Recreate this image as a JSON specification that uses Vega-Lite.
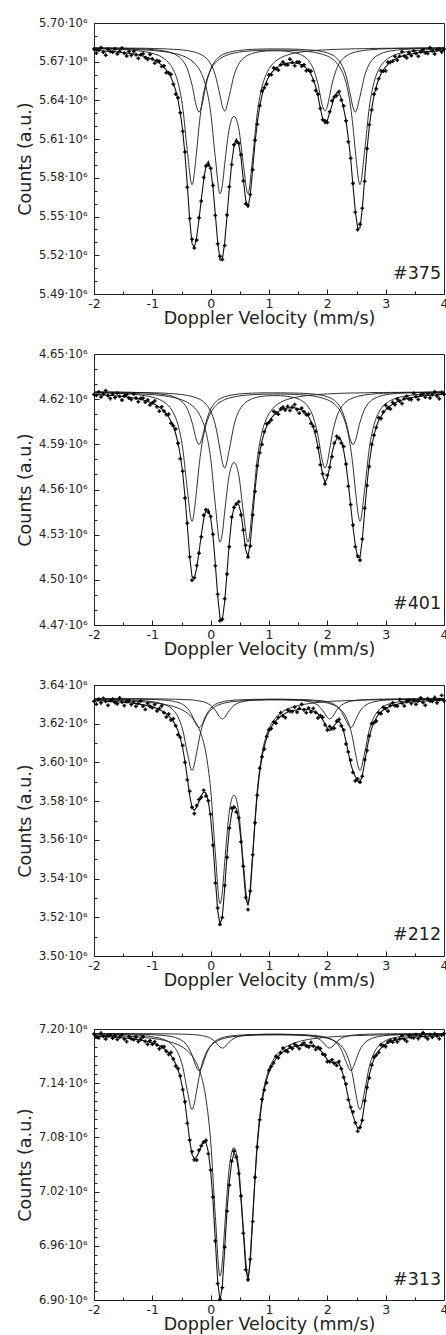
{
"$schema":"https://vega.github.io/schema/vega-lite/v6.json",
"padding":{"left":15,"top":16,"right":0,"bottom":0},
"config":{"font":"DejaVu Sans","view":{"stroke":"#222","strokeWidth":1},
"axis":{"domainColor":"#222","tickColor":"#222","labelColor":"#222","titleColor":"#222","labelFont":"DejaVu Sans","titleFont":"DejaVu Sans","titleFontWeight":"normal","grid":false,"tickWidth":1,"domainWidth":1},
"axisX":{"labelFontSize":12.5,"titleFontSize":17.5},"axisY":{"labelFontSize":11.5,"titleFontSize":17.5}},
"datasets":{
"p1":[{"x":-2,"f":5.6788,"d":5.6799},{"x":-1.96,"f":5.6787,"d":5.6767},{"x":-1.92,"f":5.6786,"d":5.679},{"x":-1.88,"f":5.6785,"d":5.681},{"x":-1.84,"f":5.6783,"d":5.6774},{"x":-1.8,"f":5.6782,"d":5.6751},{"x":-1.76,"f":5.6781,"d":5.6797},{"x":-1.72,"f":5.678,"d":5.678},{"x":-1.68,"f":5.6779,"d":5.6774},{"x":-1.64,"f":5.6777,"d":5.6799},{"x":-1.6,"f":5.6776,"d":5.676},{"x":-1.56,"f":5.6774,"d":5.6781},{"x":-1.52,"f":5.6772,"d":5.6806},{"x":-1.48,"f":5.677,"d":5.6766},{"x":-1.44,"f":5.6768,"d":5.6745},{"x":-1.4,"f":5.6766,"d":5.6779},{"x":-1.36,"f":5.6763,"d":5.675},{"x":-1.32,"f":5.6759,"d":5.6779},{"x":-1.28,"f":5.6756,"d":5.6754},{"x":-1.24,"f":5.6753,"d":5.6726},{"x":-1.2,"f":5.6749,"d":5.6754},{"x":-1.16,"f":5.6744,"d":5.6762},{"x":-1.12,"f":5.6739,"d":5.6732},{"x":-1.08,"f":5.6733,"d":5.6719},{"x":-1.04,"f":5.6727,"d":5.6756},{"x":-1,"f":5.672,"d":5.6722},{"x":-0.96,"f":5.6711,"d":5.6689},{"x":-0.92,"f":5.67,"d":5.6709},{"x":-0.88,"f":5.6689,"d":5.6703},{"x":-0.84,"f":5.6674,"d":5.6663},{"x":-0.8,"f":5.6657,"d":5.6668},{"x":-0.76,"f":5.6635,"d":5.6615},{"x":-0.72,"f":5.661,"d":5.6614},{"x":-0.68,"f":5.6577,"d":5.6602},{"x":-0.64,"f":5.6534,"d":5.6525},{"x":-0.6,"f":5.6479,"d":5.6448},{"x":-0.56,"f":5.6405,"d":5.6421},{"x":-0.52,"f":5.6304,"d":5.6304},{"x":-0.48,"f":5.6166,"d":5.6161},{"x":-0.44,"f":5.5979,"d":5.6001},{"x":-0.4,"f":5.5743,"d":5.5727},{"x":-0.36,"f":5.5478,"d":5.5485},{"x":-0.32,"f":5.529,"d":5.5324},{"x":-0.28,"f":5.5261,"d":5.5257},{"x":-0.24,"f":5.5341,"d":5.5318},{"x":-0.2,"f":5.5478,"d":5.5491},{"x":-0.16,"f":5.5634,"d":5.5621},{"x":-0.12,"f":5.5783,"d":5.5803},{"x":-0.08,"f":5.5894,"d":5.5892},{"x":-0.04,"f":5.5928,"d":5.5901},{"x":0,"f":5.5869,"d":5.5874},{"x":0.04,"f":5.5723,"d":5.5741},{"x":0.08,"f":5.5516,"d":5.5509},{"x":0.12,"f":5.5303,"d":5.5289},{"x":0.16,"f":5.5163,"d":5.5192},{"x":0.2,"f":5.5166,"d":5.5168},{"x":0.24,"f":5.5298,"d":5.5276},{"x":0.28,"f":5.5503,"d":5.5512},{"x":0.32,"f":5.5718,"d":5.5732},{"x":0.36,"f":5.5914,"d":5.5903},{"x":0.4,"f":5.6045,"d":5.6056},{"x":0.44,"f":5.6101,"d":5.6081},{"x":0.48,"f":5.6064,"d":5.6068},{"x":0.52,"f":5.5955,"d":5.598},{"x":0.56,"f":5.5785,"d":5.5776},{"x":0.6,"f":5.5631,"d":5.56},{"x":0.64,"f":5.5569,"d":5.5585},{"x":0.68,"f":5.5671,"d":5.5671},{"x":0.72,"f":5.5868,"d":5.5863},{"x":0.76,"f":5.607,"d":5.6092},{"x":0.8,"f":5.6232,"d":5.6216},{"x":0.84,"f":5.6352,"d":5.6359},{"x":0.88,"f":5.644,"d":5.6474},{"x":0.92,"f":5.6503,"d":5.6499},{"x":0.96,"f":5.655,"d":5.6527},{"x":1,"f":5.6585,"d":5.6598},{"x":1.04,"f":5.6612,"d":5.6599},{"x":1.08,"f":5.6632,"d":5.6652},{"x":1.12,"f":5.6649,"d":5.6647},{"x":1.16,"f":5.6662,"d":5.6635},{"x":1.2,"f":5.6672,"d":5.6677},{"x":1.24,"f":5.6679,"d":5.6697},{"x":1.28,"f":5.6685,"d":5.6678},{"x":1.32,"f":5.6689,"d":5.6675},{"x":1.36,"f":5.6691,"d":5.672},{"x":1.4,"f":5.6692,"d":5.6694},{"x":1.44,"f":5.6691,"d":5.6669},{"x":1.48,"f":5.6688,"d":5.6697},{"x":1.52,"f":5.6683,"d":5.6697},{"x":1.56,"f":5.6676,"d":5.6665},{"x":1.6,"f":5.6665,"d":5.6676},{"x":1.64,"f":5.665,"d":5.663},{"x":1.68,"f":5.663,"d":5.6634},{"x":1.72,"f":5.6602,"d":5.6627},{"x":1.76,"f":5.6562,"d":5.6553},{"x":1.8,"f":5.6507,"d":5.6476},{"x":1.84,"f":5.6432,"d":5.6448},{"x":1.88,"f":5.6338,"d":5.6338},{"x":1.92,"f":5.6256,"d":5.6251},{"x":1.96,"f":5.622,"d":5.6242},{"x":2,"f":5.6245,"d":5.6229},{"x":2.04,"f":5.6305,"d":5.6312},{"x":2.08,"f":5.6364,"d":5.6398},{"x":2.12,"f":5.6431,"d":5.6427},{"x":2.16,"f":5.6461,"d":5.6438},{"x":2.2,"f":5.6456,"d":5.6469},{"x":2.24,"f":5.6416,"d":5.6403},{"x":2.28,"f":5.6337,"d":5.6357},{"x":2.32,"f":5.6244,"d":5.6242},{"x":2.36,"f":5.6106,"d":5.6079},{"x":2.4,"f":5.5947,"d":5.5952},{"x":2.44,"f":5.5739,"d":5.5757},{"x":2.48,"f":5.554,"d":5.5533},{"x":2.52,"f":5.5413,"d":5.5399},{"x":2.56,"f":5.5412,"d":5.5441},{"x":2.6,"f":5.5562,"d":5.5564},{"x":2.64,"f":5.5796,"d":5.5774},{"x":2.68,"f":5.6018,"d":5.6027},{"x":2.72,"f":5.6198,"d":5.6212},{"x":2.76,"f":5.6337,"d":5.6326},{"x":2.8,"f":5.6437,"d":5.6448},{"x":2.84,"f":5.651,"d":5.649},{"x":2.88,"f":5.6564,"d":5.6568},{"x":2.92,"f":5.6604,"d":5.6629},{"x":2.96,"f":5.6636,"d":5.6627},{"x":3,"f":5.666,"d":5.6629},{"x":3.04,"f":5.668,"d":5.6696},{"x":3.08,"f":5.6695,"d":5.6695},{"x":3.12,"f":5.6709,"d":5.6704},{"x":3.16,"f":5.6719,"d":5.6741},{"x":3.2,"f":5.6728,"d":5.6712},{"x":3.24,"f":5.6736,"d":5.6743},{"x":3.28,"f":5.6743,"d":5.6777},{"x":3.32,"f":5.6748,"d":5.6744},{"x":3.36,"f":5.6753,"d":5.673},{"x":3.4,"f":5.6757,"d":5.677},{"x":3.44,"f":5.676,"d":5.6747},{"x":3.48,"f":5.6763,"d":5.6783},{"x":3.52,"f":5.6766,"d":5.6764},{"x":3.56,"f":5.6769,"d":5.6742},{"x":3.6,"f":5.6772,"d":5.6777},{"x":3.64,"f":5.6774,"d":5.6792},{"x":3.68,"f":5.6776,"d":5.6769},{"x":3.72,"f":5.6778,"d":5.6764},{"x":3.76,"f":5.678,"d":5.6809},{"x":3.8,"f":5.6781,"d":5.6783},{"x":3.84,"f":5.6782,"d":5.676},{"x":3.88,"f":5.6784,"d":5.6793},{"x":3.92,"f":5.6785,"d":5.6799},{"x":3.96,"f":5.6786,"d":5.6775},{"x":4,"f":5.6787,"d":5.6798}],
"p2":[{"x":-2,"f":4.6231,"d":4.6231},{"x":-1.96,"f":4.623,"d":4.6225},{"x":-1.92,"f":4.623,"d":4.6249},{"x":-1.88,"f":4.6229,"d":4.6215},{"x":-1.84,"f":4.6228,"d":4.6234},{"x":-1.8,"f":4.6227,"d":4.6257},{"x":-1.76,"f":4.6226,"d":4.6223},{"x":-1.72,"f":4.6225,"d":4.6204},{"x":-1.68,"f":4.6224,"d":4.6235},{"x":-1.64,"f":4.6222,"d":4.6211},{"x":-1.6,"f":4.6221,"d":4.6239},{"x":-1.56,"f":4.622,"d":4.6218},{"x":-1.52,"f":4.6218,"d":4.6194},{"x":-1.48,"f":4.6217,"d":4.6222},{"x":-1.44,"f":4.6215,"d":4.6231},{"x":-1.4,"f":4.6213,"d":4.6207},{"x":-1.36,"f":4.621,"d":4.6197},{"x":-1.32,"f":4.6208,"d":4.6234},{"x":-1.28,"f":4.6205,"d":4.6207},{"x":-1.24,"f":4.6202,"d":4.6183},{"x":-1.2,"f":4.6198,"d":4.6206},{"x":-1.16,"f":4.6194,"d":4.6207},{"x":-1.12,"f":4.619,"d":4.618},{"x":-1.08,"f":4.6185,"d":4.6195},{"x":-1.04,"f":4.618,"d":4.6162},{"x":-1,"f":4.6173,"d":4.6176},{"x":-0.96,"f":4.6166,"d":4.6188},{"x":-0.92,"f":4.6157,"d":4.6149},{"x":-0.88,"f":4.6147,"d":4.612},{"x":-0.84,"f":4.6135,"d":4.6149},{"x":-0.8,"f":4.6121,"d":4.6121},{"x":-0.76,"f":4.6103,"d":4.6098},{"x":-0.72,"f":4.6081,"d":4.61},{"x":-0.68,"f":4.6054,"d":4.604},{"x":-0.64,"f":4.6018,"d":4.6024},{"x":-0.6,"f":4.5972,"d":4.6002},{"x":-0.56,"f":4.591,"d":4.5907},{"x":-0.52,"f":4.5826,"d":4.5805},{"x":-0.48,"f":4.5711,"d":4.5722},{"x":-0.44,"f":4.5554,"d":4.5543},{"x":-0.4,"f":4.5358,"d":4.5376},{"x":-0.36,"f":4.5155,"d":4.5153},{"x":-0.32,"f":4.5022,"d":4.4998},{"x":-0.28,"f":4.5009,"d":4.5014},{"x":-0.24,"f":4.5079,"d":4.5095},{"x":-0.2,"f":4.5183,"d":4.5177},{"x":-0.16,"f":4.5299,"d":4.5286},{"x":-0.12,"f":4.5403,"d":4.5429},{"x":-0.08,"f":4.5464,"d":4.5466},{"x":-0.04,"f":4.5469,"d":4.545},{"x":0,"f":4.5412,"d":4.542},{"x":0.04,"f":4.5289,"d":4.5302},{"x":0.08,"f":4.5103,"d":4.5093},{"x":0.12,"f":4.4894,"d":4.4904},{"x":0.16,"f":4.4747,"d":4.4729},{"x":0.2,"f":4.4735,"d":4.4738},{"x":0.24,"f":4.4853,"d":4.4875},{"x":0.28,"f":4.5046,"d":4.5038},{"x":0.32,"f":4.5246,"d":4.5219},{"x":0.36,"f":4.5403,"d":4.5417},{"x":0.4,"f":4.5481,"d":4.5481},{"x":0.44,"f":4.5509,"d":4.5504},{"x":0.48,"f":4.55,"d":4.5519},{"x":0.52,"f":4.5445,"d":4.5431},{"x":0.56,"f":4.5324,"d":4.533},{"x":0.6,"f":4.5199,"d":4.5229},{"x":0.64,"f":4.5155,"d":4.5152},{"x":0.68,"f":4.5245,"d":4.5224},{"x":0.72,"f":4.542,"d":4.5431},{"x":0.76,"f":4.5597,"d":4.5586},{"x":0.8,"f":4.574,"d":4.5758},{"x":0.84,"f":4.5846,"d":4.5844},{"x":0.88,"f":4.5923,"d":4.5899},{"x":0.92,"f":4.5979,"d":4.5984},{"x":0.96,"f":4.602,"d":4.6036},{"x":1,"f":4.6051,"d":4.6045},{"x":1.04,"f":4.6075,"d":4.6062},{"x":1.08,"f":4.6093,"d":4.6119},{"x":1.12,"f":4.6107,"d":4.6109},{"x":1.16,"f":4.6119,"d":4.61},{"x":1.2,"f":4.6127,"d":4.6135},{"x":1.24,"f":4.6134,"d":4.6147},{"x":1.28,"f":4.6138,"d":4.6128},{"x":1.32,"f":4.6142,"d":4.6152},{"x":1.36,"f":4.6143,"d":4.6125},{"x":1.4,"f":4.6144,"d":4.6147},{"x":1.44,"f":4.6142,"d":4.6164},{"x":1.48,"f":4.6139,"d":4.6131},{"x":1.52,"f":4.6134,"d":4.6107},{"x":1.56,"f":4.6127,"d":4.6141},{"x":1.6,"f":4.6116,"d":4.6116},{"x":1.64,"f":4.6102,"d":4.6097},{"x":1.68,"f":4.6081,"d":4.61},{"x":1.72,"f":4.6053,"d":4.6039},{"x":1.76,"f":4.6013,"d":4.6019},{"x":1.8,"f":4.5956,"d":4.5986},{"x":1.84,"f":4.5881,"d":4.5878},{"x":1.88,"f":4.5786,"d":4.5765},{"x":1.92,"f":4.5694,"d":4.5705},{"x":1.96,"f":4.5648,"d":4.5637},{"x":2,"f":4.5676,"d":4.5694},{"x":2.04,"f":4.5749,"d":4.5747},{"x":2.08,"f":4.5842,"d":4.5818},{"x":2.12,"f":4.5903,"d":4.5908},{"x":2.16,"f":4.5937,"d":4.5953},{"x":2.2,"f":4.5946,"d":4.594},{"x":2.24,"f":4.5922,"d":4.5909},{"x":2.28,"f":4.586,"d":4.5886},{"x":2.32,"f":4.5767,"d":4.5769},{"x":2.36,"f":4.564,"d":4.5621},{"x":2.4,"f":4.5492,"d":4.55},{"x":2.44,"f":4.5351,"d":4.5364},{"x":2.48,"f":4.523,"d":4.522},{"x":2.52,"f":4.5148,"d":4.5158},{"x":2.56,"f":4.5149,"d":4.5131},{"x":2.6,"f":4.5268,"d":4.5271},{"x":2.64,"f":4.5454,"d":4.5476},{"x":2.68,"f":4.5635,"d":4.5627},{"x":2.72,"f":4.5779,"d":4.5752},{"x":2.76,"f":4.5885,"d":4.5899},{"x":2.8,"f":4.5961,"d":4.5961},{"x":2.84,"f":4.6017,"d":4.6012},{"x":2.88,"f":4.6058,"d":4.6077},{"x":2.92,"f":4.6085,"d":4.6071},{"x":2.96,"f":4.6109,"d":4.6115},{"x":3,"f":4.6129,"d":4.6159},{"x":3.04,"f":4.6145,"d":4.6142},{"x":3.08,"f":4.6156,"d":4.6135},{"x":3.12,"f":4.6167,"d":4.6178},{"x":3.16,"f":4.6175,"d":4.6164},{"x":3.2,"f":4.6183,"d":4.6201},{"x":3.24,"f":4.6189,"d":4.6187},{"x":3.28,"f":4.6195,"d":4.6171},{"x":3.32,"f":4.6199,"d":4.6204},{"x":3.36,"f":4.6203,"d":4.6219},{"x":3.4,"f":4.6207,"d":4.6201},{"x":3.44,"f":4.621,"d":4.6197},{"x":3.48,"f":4.6213,"d":4.6239},{"x":3.52,"f":4.6215,"d":4.6217},{"x":3.56,"f":4.6217,"d":4.6198},{"x":3.6,"f":4.6219,"d":4.6227},{"x":3.64,"f":4.6221,"d":4.6234},{"x":3.68,"f":4.6223,"d":4.6213},{"x":3.72,"f":4.6224,"d":4.6234},{"x":3.76,"f":4.6226,"d":4.6208},{"x":3.8,"f":4.6227,"d":4.623},{"x":3.84,"f":4.6228,"d":4.625},{"x":3.88,"f":4.6229,"d":4.6221},{"x":3.92,"f":4.623,"d":4.6203},{"x":3.96,"f":4.6231,"d":4.6245},{"x":4,"f":4.6232,"d":4.6232}],
"p3":[{"x":-2,"f":3.6319,"d":3.6316},{"x":-1.96,"f":3.6318,"d":3.6301},{"x":-1.92,"f":3.6318,"d":3.6327},{"x":-1.88,"f":3.6317,"d":3.6308},{"x":-1.84,"f":3.6317,"d":3.6331},{"x":-1.8,"f":3.6316,"d":3.6315},{"x":-1.76,"f":3.6315,"d":3.6295},{"x":-1.72,"f":3.6315,"d":3.6319},{"x":-1.68,"f":3.6314,"d":3.6327},{"x":-1.64,"f":3.6314,"d":3.6309},{"x":-1.6,"f":3.6313,"d":3.6303},{"x":-1.56,"f":3.6312,"d":3.6333},{"x":-1.52,"f":3.6311,"d":3.6312},{"x":-1.48,"f":3.631,"d":3.6294},{"x":-1.44,"f":3.6309,"d":3.6316},{"x":-1.4,"f":3.6308,"d":3.6318},{"x":-1.36,"f":3.6307,"d":3.6299},{"x":-1.32,"f":3.6305,"d":3.6313},{"x":-1.28,"f":3.6304,"d":3.629},{"x":-1.24,"f":3.6302,"d":3.6305},{"x":-1.2,"f":3.63,"d":3.6318},{"x":-1.16,"f":3.6298,"d":3.6291},{"x":-1.12,"f":3.6296,"d":3.6274},{"x":-1.08,"f":3.6293,"d":3.6305},{"x":-1.04,"f":3.629,"d":3.629},{"x":-1,"f":3.6287,"d":3.6283},{"x":-0.96,"f":3.6283,"d":3.6299},{"x":-0.92,"f":3.6278,"d":3.6266},{"x":-0.88,"f":3.6273,"d":3.6278},{"x":-0.84,"f":3.6267,"d":3.6292},{"x":-0.8,"f":3.626,"d":3.6257},{"x":-0.76,"f":3.6252,"d":3.6235},{"x":-0.72,"f":3.6241,"d":3.625},{"x":-0.68,"f":3.6228,"d":3.6219},{"x":-0.64,"f":3.6212,"d":3.6226},{"x":-0.6,"f":3.6191,"d":3.619},{"x":-0.56,"f":3.6163,"d":3.6143},{"x":-0.52,"f":3.6125,"d":3.6129},{"x":-0.48,"f":3.6074,"d":3.6087},{"x":-0.44,"f":3.6005,"d":3.6},{"x":-0.4,"f":3.592,"d":3.591},{"x":-0.36,"f":3.583,"d":3.5851},{"x":-0.32,"f":3.5767,"d":3.5768},{"x":-0.28,"f":3.5752,"d":3.5736},{"x":-0.24,"f":3.577,"d":3.5777},{"x":-0.2,"f":3.5798,"d":3.5808},{"x":-0.16,"f":3.5828,"d":3.582},{"x":-0.12,"f":3.5848,"d":3.5856},{"x":-0.08,"f":3.5841,"d":3.5827},{"x":-0.04,"f":3.5799,"d":3.5802},{"x":0,"f":3.5714,"d":3.5732},{"x":0.04,"f":3.5579,"d":3.5572},{"x":0.08,"f":3.5399,"d":3.5377},{"x":0.12,"f":3.5236,"d":3.5248},{"x":0.16,"f":3.5163,"d":3.5163},{"x":0.2,"f":3.5203,"d":3.5199},{"x":0.24,"f":3.5348,"d":3.5364},{"x":0.28,"f":3.5522,"d":3.551},{"x":0.32,"f":3.5656,"d":3.5661},{"x":0.36,"f":3.5738,"d":3.5763},{"x":0.4,"f":3.5772,"d":3.5769},{"x":0.44,"f":3.5761,"d":3.5744},{"x":0.48,"f":3.5705,"d":3.5714},{"x":0.52,"f":3.5599,"d":3.559},{"x":0.56,"f":3.545,"d":3.5464},{"x":0.6,"f":3.5303,"d":3.5302},{"x":0.64,"f":3.526,"d":3.524},{"x":0.68,"f":3.5332,"d":3.5336},{"x":0.72,"f":3.551,"d":3.5523},{"x":0.76,"f":3.5693,"d":3.5688},{"x":0.8,"f":3.584,"d":3.583},{"x":0.84,"f":3.5949,"d":3.597},{"x":0.88,"f":3.6028,"d":3.6029},{"x":0.92,"f":3.6085,"d":3.6069},{"x":0.96,"f":3.6127,"d":3.6134},{"x":1,"f":3.6159,"d":3.6169},{"x":1.04,"f":3.6183,"d":3.6175},{"x":1.08,"f":3.6202,"d":3.621},{"x":1.12,"f":3.6217,"d":3.6203},{"x":1.16,"f":3.6229,"d":3.6232},{"x":1.2,"f":3.6239,"d":3.6257},{"x":1.24,"f":3.6247,"d":3.624},{"x":1.28,"f":3.6254,"d":3.6232},{"x":1.32,"f":3.6259,"d":3.6271},{"x":1.36,"f":3.6264,"d":3.6264},{"x":1.4,"f":3.6267,"d":3.6263},{"x":1.44,"f":3.627,"d":3.6286},{"x":1.48,"f":3.6272,"d":3.626},{"x":1.52,"f":3.6274,"d":3.6279},{"x":1.56,"f":3.6275,"d":3.63},{"x":1.6,"f":3.6275,"d":3.6272},{"x":1.64,"f":3.6274,"d":3.6257},{"x":1.68,"f":3.6272,"d":3.6281},{"x":1.72,"f":3.627,"d":3.6261},{"x":1.76,"f":3.6265,"d":3.6279},{"x":1.8,"f":3.6259,"d":3.6258},{"x":1.84,"f":3.625,"d":3.623},{"x":1.88,"f":3.6238,"d":3.6242},{"x":1.92,"f":3.6221,"d":3.6234},{"x":1.96,"f":3.6199,"d":3.6194},{"x":2,"f":3.6177,"d":3.6167},{"x":2.04,"f":3.6164,"d":3.6185},{"x":2.08,"f":3.6174,"d":3.6175},{"x":2.12,"f":3.6192,"d":3.6176},{"x":2.16,"f":3.6206,"d":3.6213},{"x":2.2,"f":3.6212,"d":3.6222},{"x":2.24,"f":3.6197,"d":3.6189},{"x":2.28,"f":3.616,"d":3.6168},{"x":2.32,"f":3.6109,"d":3.6095},{"x":2.36,"f":3.6051,"d":3.6054},{"x":2.4,"f":3.5994,"d":3.6012},{"x":2.44,"f":3.5955,"d":3.5948},{"x":2.48,"f":3.5927,"d":3.5905},{"x":2.52,"f":3.5903,"d":3.5915},{"x":2.56,"f":3.5898,"d":3.5898},{"x":2.6,"f":3.5933,"d":3.5929},{"x":2.64,"f":3.5998,"d":3.6014},{"x":2.68,"f":3.6073,"d":3.6061},{"x":2.72,"f":3.6132,"d":3.6137},{"x":2.76,"f":3.6176,"d":3.6201},{"x":2.8,"f":3.6208,"d":3.6205},{"x":2.84,"f":3.6231,"d":3.6214},{"x":2.88,"f":3.6248,"d":3.6257},{"x":2.92,"f":3.6261,"d":3.6252},{"x":2.96,"f":3.6271,"d":3.6285},{"x":3,"f":3.6279,"d":3.6278},{"x":3.04,"f":3.6285,"d":3.6265},{"x":3.08,"f":3.629,"d":3.6294},{"x":3.12,"f":3.6295,"d":3.6308},{"x":3.16,"f":3.6298,"d":3.6293},{"x":3.2,"f":3.6301,"d":3.6291},{"x":3.24,"f":3.6304,"d":3.6325},{"x":3.28,"f":3.6306,"d":3.6307},{"x":3.32,"f":3.6308,"d":3.6292},{"x":3.36,"f":3.6309,"d":3.6316},{"x":3.4,"f":3.6311,"d":3.6321},{"x":3.44,"f":3.6312,"d":3.6304},{"x":3.48,"f":3.6313,"d":3.6321},{"x":3.52,"f":3.6314,"d":3.63},{"x":3.56,"f":3.6315,"d":3.6318},{"x":3.6,"f":3.6316,"d":3.6334},{"x":3.64,"f":3.6317,"d":3.631},{"x":3.68,"f":3.6317,"d":3.6295},{"x":3.72,"f":3.6318,"d":3.633},{"x":3.76,"f":3.6318,"d":3.6318},{"x":3.8,"f":3.6319,"d":3.6315},{"x":3.84,"f":3.632,"d":3.6336},{"x":3.88,"f":3.632,"d":3.6308},{"x":3.92,"f":3.632,"d":3.6325},{"x":3.96,"f":3.6321,"d":3.6346},{"x":4,"f":3.6321,"d":3.6318}],
"p4":[{"x":-2,"f":7.1922,"d":7.1944},{"x":-1.96,"f":7.1921,"d":7.1912},{"x":-1.92,"f":7.1919,"d":7.1901},{"x":-1.88,"f":7.1918,"d":7.1953},{"x":-1.84,"f":7.1917,"d":7.1919},{"x":-1.8,"f":7.1916,"d":7.189},{"x":-1.76,"f":7.1914,"d":7.1925},{"x":-1.72,"f":7.1913,"d":7.1931},{"x":-1.68,"f":7.1911,"d":7.1898},{"x":-1.64,"f":7.191,"d":7.1923},{"x":-1.6,"f":7.1908,"d":7.1884},{"x":-1.56,"f":7.1906,"d":7.191},{"x":-1.52,"f":7.1903,"d":7.1934},{"x":-1.48,"f":7.1901,"d":7.189},{"x":-1.44,"f":7.1898,"d":7.1861},{"x":-1.4,"f":7.1896,"d":7.1916},{"x":-1.36,"f":7.1893,"d":7.1893},{"x":-1.32,"f":7.1889,"d":7.1882},{"x":-1.28,"f":7.1885,"d":7.1911},{"x":-1.24,"f":7.1881,"d":7.1861},{"x":-1.2,"f":7.1877,"d":7.1886},{"x":-1.16,"f":7.1872,"d":7.1914},{"x":-1.12,"f":7.1866,"d":7.1862},{"x":-1.08,"f":7.186,"d":7.1831},{"x":-1.04,"f":7.1854,"d":7.1869},{"x":-1,"f":7.1845,"d":7.183},{"x":-0.96,"f":7.1836,"d":7.186},{"x":-0.92,"f":7.1825,"d":7.1823},{"x":-0.88,"f":7.1814,"d":7.1781},{"x":-0.84,"f":7.1798,"d":7.1805},{"x":-0.8,"f":7.1782,"d":7.1804},{"x":-0.76,"f":7.1762,"d":7.1753},{"x":-0.72,"f":7.1737,"d":7.1719},{"x":-0.68,"f":7.1706,"d":7.1741},{"x":-0.64,"f":7.1666,"d":7.1668},{"x":-0.6,"f":7.1616,"d":7.159},{"x":-0.56,"f":7.1551,"d":7.1562},{"x":-0.52,"f":7.1462,"d":7.148},{"x":-0.48,"f":7.1342,"d":7.1329},{"x":-0.44,"f":7.1181,"d":7.1194},{"x":-0.4,"f":7.098,"d":7.0956},{"x":-0.36,"f":7.0767,"d":7.0771},{"x":-0.32,"f":7.0612,"d":7.0643},{"x":-0.28,"f":7.0563,"d":7.0552},{"x":-0.24,"f":7.0586,"d":7.0549},{"x":-0.2,"f":7.064,"d":7.066},{"x":-0.16,"f":7.0708,"d":7.0708},{"x":-0.12,"f":7.0755,"d":7.0748},{"x":-0.08,"f":7.0741,"d":7.0767},{"x":-0.04,"f":7.0639,"d":7.0619},{"x":0,"f":7.043,"d":7.0439},{"x":0.04,"f":7.0098,"d":7.014},{"x":0.08,"f":6.9656,"d":6.9652},{"x":0.12,"f":6.9211,"d":6.9182},{"x":0.16,"f":6.8992,"d":6.9007},{"x":0.2,"f":6.9152,"d":6.9137},{"x":0.24,"f":6.9561,"d":6.9585},{"x":0.28,"f":6.9985,"d":6.9983},{"x":0.32,"f":7.0306,"d":7.0273},{"x":0.36,"f":7.0529,"d":7.0536},{"x":0.4,"f":7.0625,"d":7.0647},{"x":0.44,"f":7.0589,"d":7.058},{"x":0.48,"f":7.0419,"d":7.0401},{"x":0.52,"f":7.0117,"d":7.0152},{"x":0.56,"f":6.9738,"d":6.974},{"x":0.6,"f":6.9362,"d":6.9336},{"x":0.64,"f":6.9213,"d":6.9224},{"x":0.68,"f":6.9432,"d":6.945},{"x":0.72,"f":6.9882,"d":6.9869},{"x":0.76,"f":7.0345,"d":7.0358},{"x":0.8,"f":7.0717,"d":7.0693},{"x":0.84,"f":7.0992,"d":7.0996},{"x":0.88,"f":7.1191,"d":7.1222},{"x":0.92,"f":7.1336,"d":7.1325},{"x":0.96,"f":7.1442,"d":7.1405},{"x":1,"f":7.1523,"d":7.1543},{"x":1.04,"f":7.1584,"d":7.1584},{"x":1.08,"f":7.1632,"d":7.1625},{"x":1.12,"f":7.1671,"d":7.1697},{"x":1.16,"f":7.1701,"d":7.1681},{"x":1.2,"f":7.1726,"d":7.1735},{"x":1.24,"f":7.1747,"d":7.1789},{"x":1.28,"f":7.1764,"d":7.176},{"x":1.32,"f":7.1778,"d":7.1749},{"x":1.36,"f":7.1789,"d":7.1804},{"x":1.4,"f":7.1799,"d":7.1784},{"x":1.44,"f":7.1806,"d":7.183},{"x":1.48,"f":7.1813,"d":7.1811},{"x":1.52,"f":7.1817,"d":7.1784},{"x":1.56,"f":7.182,"d":7.1827},{"x":1.6,"f":7.1822,"d":7.1844},{"x":1.64,"f":7.1822,"d":7.1813},{"x":1.68,"f":7.182,"d":7.1802},{"x":1.72,"f":7.1816,"d":7.1851},{"x":1.76,"f":7.181,"d":7.1812},{"x":1.8,"f":7.18,"d":7.1774},{"x":1.84,"f":7.1786,"d":7.1797},{"x":1.88,"f":7.1765,"d":7.1783},{"x":1.92,"f":7.1736,"d":7.1723},{"x":1.96,"f":7.17,"d":7.1713},{"x":2,"f":7.1662,"d":7.1638},{"x":2.04,"f":7.1636,"d":7.164},{"x":2.08,"f":7.1628,"d":7.1659},{"x":2.12,"f":7.163,"d":7.1619},{"x":2.16,"f":7.1634,"d":7.1597},{"x":2.2,"f":7.1619,"d":7.1639},{"x":2.24,"f":7.156,"d":7.156},{"x":2.28,"f":7.1472,"d":7.1465},{"x":2.32,"f":7.1364,"d":7.139},{"x":2.36,"f":7.1238,"d":7.1218},{"x":2.4,"f":7.1125,"d":7.1134},{"x":2.44,"f":7.1041,"d":7.1083},{"x":2.48,"f":7.0966,"d":7.0962},{"x":2.52,"f":7.0898,"d":7.0869},{"x":2.56,"f":7.0896,"d":7.0911},{"x":2.6,"f":7.1005,"d":7.099},{"x":2.64,"f":7.1181,"d":7.1205},{"x":2.68,"f":7.1354,"d":7.1352},{"x":2.72,"f":7.1491,"d":7.1458},{"x":2.76,"f":7.1593,"d":7.16},{"x":2.8,"f":7.1666,"d":7.1688},{"x":2.84,"f":7.172,"d":7.1711},{"x":2.88,"f":7.1759,"d":7.1741},{"x":2.92,"f":7.1789,"d":7.1824},{"x":2.96,"f":7.1813,"d":7.1815},{"x":3,"f":7.1831,"d":7.1805},{"x":3.04,"f":7.1845,"d":7.1856},{"x":3.08,"f":7.1857,"d":7.1875},{"x":3.12,"f":7.1867,"d":7.1854},{"x":3.16,"f":7.1875,"d":7.1888},{"x":3.2,"f":7.1882,"d":7.1858},{"x":3.24,"f":7.1888,"d":7.1892},{"x":3.28,"f":7.1893,"d":7.1924},{"x":3.32,"f":7.1897,"d":7.1886},{"x":3.36,"f":7.1901,"d":7.1864},{"x":3.4,"f":7.1904,"d":7.1924},{"x":3.44,"f":7.1907,"d":7.1907},{"x":3.48,"f":7.1909,"d":7.1902},{"x":3.52,"f":7.1912,"d":7.1938},{"x":3.56,"f":7.1914,"d":7.1894},{"x":3.6,"f":7.1916,"d":7.1925},{"x":3.64,"f":7.1917,"d":7.1959},{"x":3.68,"f":7.1919,"d":7.1915},{"x":3.72,"f":7.192,"d":7.1891},{"x":3.76,"f":7.1922,"d":7.1937},{"x":3.8,"f":7.1923,"d":7.1908},{"x":3.84,"f":7.1924,"d":7.1948},{"x":3.88,"f":7.1925,"d":7.1923},{"x":3.92,"f":7.1926,"d":7.1893},{"x":3.96,"f":7.1927,"d":7.1934},{"x":4,"f":7.1928,"d":7.195}],
"c1":[{"x":-2,"a":5.6802,"b":5.6803,"c":5.6807,"e":5.6807},{"x":-1.68,"a":5.6798,"b":5.68,"c":5.6805,"e":5.6807},{"x":-1.36,"a":5.679,"b":5.6796,"c":5.6802,"e":5.6805},{"x":-1.12,"a":5.6777,"b":5.6791,"c":5.6798,"e":5.6804},{"x":-0.96,"a":5.676,"b":5.6786,"c":5.6793,"e":5.6802},{"x":-0.8,"a":5.6725,"b":5.6778,"c":5.6783,"e":5.68},{"x":-0.72,"a":5.6692,"b":5.6773,"c":5.6775,"e":5.6798},{"x":-0.64,"a":5.6638,"b":5.6766,"c":5.6763,"e":5.6796},{"x":-0.56,"a":5.6539,"b":5.6758,"c":5.6743,"e":5.6794},{"x":-0.48,"a":5.6348,"b":5.6746,"c":5.6709,"e":5.6791},{"x":-0.4,"a":5.6009,"b":5.673,"c":5.6644,"e":5.6786},{"x":-0.32,"a":5.5747,"b":5.6706,"c":5.6521,"e":5.6779},{"x":-0.24,"a":5.6008,"b":5.667,"c":5.6347,"e":5.677},{"x":-0.2,"a":5.6196,"b":5.6644,"c":5.6309,"e":5.6763},{"x":-0.16,"a":5.6348,"b":5.661,"c":5.6346,"e":5.6754},{"x":-0.08,"a":5.6538,"b":5.6505,"c":5.652,"e":5.6729},{"x":0,"a":5.6637,"b":5.6307,"c":5.6644,"e":5.6683},{"x":0.08,"a":5.6691,"b":5.5957,"c":5.6708,"e":5.6595},{"x":0.16,"a":5.6724,"b":5.5678,"c":5.6742,"e":5.6438},{"x":0.2,"a":5.6735,"b":5.5743,"c":5.6754,"e":5.6354},{"x":0.24,"a":5.6744,"b":5.5904,"c":5.6762,"e":5.6317},{"x":0.32,"a":5.6758,"b":5.6186,"c":5.6774,"e":5.6437},{"x":0.4,"a":5.6767,"b":5.6277,"c":5.6782,"e":5.6594},{"x":0.48,"a":5.6774,"b":5.6186,"c":5.6787,"e":5.6681},{"x":0.56,"a":5.6779,"b":5.5904,"c":5.6791,"e":5.6726},{"x":0.64,"a":5.6782,"b":5.5678,"c":5.6794,"e":5.6751},{"x":0.72,"a":5.6785,"b":5.5957,"c":5.6796,"e":5.6765},{"x":0.8,"a":5.6787,"b":5.6307,"c":5.6797,"e":5.6774},{"x":0.88,"a":5.6788,"b":5.6505,"c":5.6798,"e":5.678},{"x":0.96,"a":5.6789,"b":5.661,"c":5.6799,"e":5.6783},{"x":1.08,"a":5.679,"b":5.669,"c":5.6799,"e":5.6785},{"x":1.2,"a":5.679,"b":5.673,"c":5.6799,"e":5.6784},{"x":1.36,"a":5.6788,"b":5.6758,"c":5.6798,"e":5.6777},{"x":1.52,"a":5.6785,"b":5.6773,"c":5.6796,"e":5.6759},{"x":1.68,"a":5.6779,"b":5.6782,"c":5.6792,"e":5.6707},{"x":1.76,"a":5.6774,"b":5.6786,"c":5.6789,"e":5.6645},{"x":1.84,"a":5.6767,"b":5.6789,"c":5.6785,"e":5.6524},{"x":1.92,"a":5.6757,"b":5.6791,"c":5.6778,"e":5.6354},{"x":1.96,"a":5.6751,"b":5.6792,"c":5.6774,"e":5.6317},{"x":2,"a":5.6744,"b":5.6793,"c":5.6769,"e":5.6354},{"x":2.04,"a":5.6735,"b":5.6794,"c":5.6762,"e":5.6438},{"x":2.08,"a":5.6723,"b":5.6795,"c":5.6754,"e":5.6525},{"x":2.16,"a":5.6691,"b":5.6796,"c":5.6728,"e":5.6646},{"x":2.24,"a":5.6636,"b":5.6797,"c":5.6681,"e":5.671},{"x":2.32,"a":5.6538,"b":5.6798,"c":5.6592,"e":5.6743},{"x":2.4,"a":5.6348,"b":5.6799,"c":5.6432,"e":5.6763},{"x":2.44,"a":5.6196,"b":5.68,"c":5.6346,"e":5.677},{"x":2.48,"a":5.6008,"b":5.68,"c":5.6309,"e":5.6775},{"x":2.56,"a":5.5747,"b":5.6801,"c":5.6432,"e":5.6783},{"x":2.64,"a":5.6009,"b":5.6801,"c":5.6592,"e":5.6788},{"x":2.72,"a":5.6348,"b":5.6802,"c":5.6682,"e":5.6792},{"x":2.8,"a":5.6539,"b":5.6803,"c":5.6729,"e":5.6795},{"x":2.88,"a":5.6638,"b":5.6803,"c":5.6754,"e":5.6798},{"x":2.96,"a":5.6692,"b":5.6804,"c":5.677,"e":5.6799},{"x":3.08,"a":5.6737,"b":5.6804,"c":5.6783,"e":5.6801},{"x":3.2,"a":5.676,"b":5.6805,"c":5.6791,"e":5.6803},{"x":3.4,"a":5.678,"b":5.6805,"c":5.6798,"e":5.6804},{"x":3.6,"a":5.679,"b":5.6806,"c":5.6802,"e":5.6806},{"x":3.8,"a":5.6795,"b":5.6806,"c":5.6804,"e":5.6806},{"x":4,"a":5.6799,"b":5.6806,"c":5.6805,"e":5.6807}],
"c2":[{"x":-2,"a":4.6243,"b":4.6244,"c":4.6248,"e":4.6247},{"x":-1.68,"a":4.624,"b":4.6241,"c":4.6247,"e":4.6247},{"x":-1.36,"a":4.6234,"b":4.6238,"c":4.6245,"e":4.6245},{"x":-1.12,"a":4.6223,"b":4.6233,"c":4.6242,"e":4.6244},{"x":-0.96,"a":4.6209,"b":4.6229,"c":4.6238,"e":4.6242},{"x":-0.8,"a":4.6181,"b":4.6222,"c":4.6231,"e":4.624},{"x":-0.72,"a":4.6155,"b":4.6217,"c":4.6226,"e":4.6238},{"x":-0.64,"a":4.611,"b":4.6211,"c":4.6217,"e":4.6236},{"x":-0.56,"a":4.603,"b":4.6204,"c":4.6203,"e":4.6233},{"x":-0.48,"a":4.5875,"b":4.6193,"c":4.6179,"e":4.623},{"x":-0.4,"a":4.56,"b":4.6179,"c":4.6134,"e":4.6225},{"x":-0.32,"a":4.5388,"b":4.6158,"c":4.6047,"e":4.6218},{"x":-0.24,"a":4.56,"b":4.6126,"c":4.5926,"e":4.6208},{"x":-0.2,"a":4.5752,"b":4.6103,"c":4.5899,"e":4.6202},{"x":-0.16,"a":4.5875,"b":4.6073,"c":4.5926,"e":4.6193},{"x":-0.08,"a":4.6029,"b":4.5981,"c":4.6047,"e":4.6167},{"x":0,"a":4.6109,"b":4.5806,"c":4.6134,"e":4.6119},{"x":0.08,"a":4.6154,"b":4.5497,"c":4.6179,"e":4.6029},{"x":0.16,"a":4.618,"b":4.525,"c":4.6203,"e":4.5867},{"x":0.2,"a":4.6189,"b":4.5308,"c":4.621,"e":4.5781},{"x":0.24,"a":4.6197,"b":4.545,"c":4.6216,"e":4.5743},{"x":0.32,"a":4.6208,"b":4.5699,"c":4.6225,"e":4.5866},{"x":0.4,"a":4.6215,"b":4.5779,"c":4.623,"e":4.6027},{"x":0.48,"a":4.6221,"b":4.5699,"c":4.6234,"e":4.6118},{"x":0.56,"a":4.6225,"b":4.545,"c":4.6237,"e":4.6164},{"x":0.64,"a":4.6228,"b":4.525,"c":4.6239,"e":4.6189},{"x":0.72,"a":4.623,"b":4.5497,"c":4.624,"e":4.6204},{"x":0.8,"a":4.6231,"b":4.5806,"c":4.6241,"e":4.6213},{"x":0.88,"a":4.6233,"b":4.5981,"c":4.6242,"e":4.6219},{"x":0.96,"a":4.6233,"b":4.6073,"c":4.6242,"e":4.6222},{"x":1.08,"a":4.6234,"b":4.6144,"c":4.6242,"e":4.6224},{"x":1.2,"a":4.6234,"b":4.6179,"c":4.6242,"e":4.6223},{"x":1.36,"a":4.6233,"b":4.6204,"c":4.6241,"e":4.6216},{"x":1.52,"a":4.623,"b":4.6217,"c":4.624,"e":4.6198},{"x":1.68,"a":4.6225,"b":4.6226,"c":4.6237,"e":4.6144},{"x":1.76,"a":4.6221,"b":4.6229,"c":4.6234,"e":4.608},{"x":1.84,"a":4.6215,"b":4.6231,"c":4.623,"e":4.5956},{"x":1.92,"a":4.6207,"b":4.6233,"c":4.6225,"e":4.5781},{"x":1.96,"a":4.6202,"b":4.6234,"c":4.6221,"e":4.5743},{"x":2,"a":4.6196,"b":4.6235,"c":4.6216,"e":4.5781},{"x":2.04,"a":4.6189,"b":4.6236,"c":4.6211,"e":4.5867},{"x":2.08,"a":4.618,"b":4.6236,"c":4.6203,"e":4.5957},{"x":2.16,"a":4.6153,"b":4.6238,"c":4.6179,"e":4.6082},{"x":2.24,"a":4.6109,"b":4.6239,"c":4.6134,"e":4.6147},{"x":2.32,"a":4.6029,"b":4.624,"c":4.6047,"e":4.6182},{"x":2.4,"a":4.5875,"b":4.6241,"c":4.5925,"e":4.6202},{"x":2.44,"a":4.5752,"b":4.6241,"c":4.5899,"e":4.6208},{"x":2.48,"a":4.56,"b":4.6241,"c":4.5925,"e":4.6214},{"x":2.56,"a":4.5388,"b":4.6242,"c":4.6047,"e":4.6222},{"x":2.64,"a":4.56,"b":4.6242,"c":4.6134,"e":4.6228},{"x":2.72,"a":4.5875,"b":4.6243,"c":4.6179,"e":4.6232},{"x":2.8,"a":4.603,"b":4.6244,"c":4.6203,"e":4.6235},{"x":2.88,"a":4.611,"b":4.6244,"c":4.6217,"e":4.6237},{"x":2.96,"a":4.6155,"b":4.6244,"c":4.6226,"e":4.6239},{"x":3.08,"a":4.619,"b":4.6245,"c":4.6234,"e":4.6241},{"x":3.2,"a":4.6209,"b":4.6245,"c":4.6238,"e":4.6243},{"x":3.4,"a":4.6225,"b":4.6246,"c":4.6242,"e":4.6244},{"x":3.6,"a":4.6233,"b":4.6246,"c":4.6244,"e":4.6245},{"x":3.8,"a":4.6238,"b":4.6247,"c":4.6246,"e":4.6246},{"x":4,"a":4.6241,"b":4.6247,"c":4.6247,"e":4.6247}],
"c3":[{"x":-2,"a":3.6327,"b":3.6323,"c":3.6329,"e":3.6329},{"x":-1.68,"a":3.6326,"b":3.6321,"c":3.6328,"e":3.6329},{"x":-1.36,"a":3.6323,"b":3.6317,"c":3.6328,"e":3.6329},{"x":-1.12,"a":3.6318,"b":3.6312,"c":3.6326,"e":3.6329},{"x":-0.96,"a":3.6312,"b":3.6307,"c":3.6325,"e":3.6328},{"x":-0.8,"a":3.63,"b":3.63,"c":3.6322,"e":3.6328},{"x":-0.72,"a":3.6289,"b":3.6295,"c":3.632,"e":3.6327},{"x":-0.64,"a":3.627,"b":3.6289,"c":3.6316,"e":3.6327},{"x":-0.56,"a":3.6235,"b":3.6281,"c":3.631,"e":3.6326},{"x":-0.48,"a":3.6169,"b":3.627,"c":3.63,"e":3.6325},{"x":-0.4,"a":3.605,"b":3.6255,"c":3.628,"e":3.6324},{"x":-0.32,"a":3.5959,"b":3.6232,"c":3.6243,"e":3.6323},{"x":-0.24,"a":3.605,"b":3.6198,"c":3.6191,"e":3.632},{"x":-0.2,"a":3.6116,"b":3.6174,"c":3.618,"e":3.6318},{"x":-0.16,"a":3.6169,"b":3.6143,"c":3.6191,"e":3.6316},{"x":-0.08,"a":3.6235,"b":3.6045,"c":3.6243,"e":3.6309},{"x":0,"a":3.627,"b":3.5859,"c":3.628,"e":3.6295},{"x":0.08,"a":3.6289,"b":3.5531,"c":3.63,"e":3.627},{"x":0.16,"a":3.63,"b":3.527,"c":3.631,"e":3.6233},{"x":0.2,"a":3.6304,"b":3.5331,"c":3.6313,"e":3.6225},{"x":0.24,"a":3.6307,"b":3.5482,"c":3.6316,"e":3.6233},{"x":0.32,"a":3.6312,"b":3.5746,"c":3.6319,"e":3.6269},{"x":0.4,"a":3.6315,"b":3.5831,"c":3.6322,"e":3.6295},{"x":0.48,"a":3.6317,"b":3.5746,"c":3.6323,"e":3.6308},{"x":0.56,"a":3.6319,"b":3.5482,"c":3.6324,"e":3.6315},{"x":0.64,"a":3.632,"b":3.527,"c":3.6325,"e":3.6319},{"x":0.72,"a":3.6321,"b":3.5531,"c":3.6326,"e":3.6322},{"x":0.8,"a":3.6322,"b":3.5859,"c":3.6326,"e":3.6323},{"x":0.88,"a":3.6322,"b":3.6045,"c":3.6326,"e":3.6324},{"x":0.96,"a":3.6323,"b":3.6143,"c":3.6327,"e":3.6325},{"x":1.08,"a":3.6323,"b":3.6217,"c":3.6327,"e":3.6325},{"x":1.2,"a":3.6323,"b":3.6255,"c":3.6327,"e":3.6325},{"x":1.36,"a":3.6322,"b":3.6281,"c":3.6326,"e":3.6324},{"x":1.52,"a":3.6321,"b":3.6295,"c":3.6325,"e":3.6322},{"x":1.68,"a":3.6319,"b":3.6304,"c":3.6324,"e":3.6315},{"x":1.76,"a":3.6317,"b":3.6307,"c":3.6322,"e":3.6308},{"x":1.84,"a":3.6315,"b":3.631,"c":3.632,"e":3.6295},{"x":1.92,"a":3.6312,"b":3.6312,"c":3.6318,"e":3.6269},{"x":1.96,"a":3.631,"b":3.6313,"c":3.6316,"e":3.6251},{"x":2,"a":3.6307,"b":3.6314,"c":3.6313,"e":3.6233},{"x":2.04,"a":3.6304,"b":3.6315,"c":3.631,"e":3.6225},{"x":2.08,"a":3.63,"b":3.6316,"c":3.6305,"e":3.6233},{"x":2.16,"a":3.6288,"b":3.6317,"c":3.6291,"e":3.627},{"x":2.24,"a":3.6269,"b":3.6318,"c":3.6264,"e":3.6295},{"x":2.32,"a":3.6235,"b":3.6319,"c":3.6216,"e":3.6309},{"x":2.4,"a":3.6169,"b":3.632,"c":3.618,"e":3.6316},{"x":2.44,"a":3.6116,"b":3.632,"c":3.6191,"e":3.6318},{"x":2.48,"a":3.605,"b":3.6321,"c":3.6217,"e":3.632},{"x":2.56,"a":3.5959,"b":3.6321,"c":3.6265,"e":3.6323},{"x":2.64,"a":3.605,"b":3.6322,"c":3.6292,"e":3.6324},{"x":2.72,"a":3.6169,"b":3.6323,"c":3.6306,"e":3.6325},{"x":2.8,"a":3.6235,"b":3.6323,"c":3.6313,"e":3.6326},{"x":2.88,"a":3.627,"b":3.6324,"c":3.6318,"e":3.6327},{"x":2.96,"a":3.6289,"b":3.6324,"c":3.6321,"e":3.6327},{"x":3.08,"a":3.6304,"b":3.6324,"c":3.6324,"e":3.6328},{"x":3.2,"a":3.6312,"b":3.6325,"c":3.6325,"e":3.6328},{"x":3.4,"a":3.6319,"b":3.6325,"c":3.6327,"e":3.6329},{"x":3.6,"a":3.6323,"b":3.6326,"c":3.6328,"e":3.6329},{"x":3.8,"a":3.6325,"b":3.6326,"c":3.6328,"e":3.6329},{"x":4,"a":3.6326,"b":3.6327,"c":3.6329,"e":3.6329}],
"c4":[{"x":-2,"a":7.1943,"b":7.1933,"c":7.1947,"e":7.1949},{"x":-1.68,"a":7.194,"b":7.1927,"c":7.1946,"e":7.1949},{"x":-1.36,"a":7.1934,"b":7.1917,"c":7.1944,"e":7.1948},{"x":-1.12,"a":7.1924,"b":7.1905,"c":7.194,"e":7.1948},{"x":-0.96,"a":7.191,"b":7.1893,"c":7.1936,"e":7.1947},{"x":-0.8,"a":7.1883,"b":7.1875,"c":7.1928,"e":7.1947},{"x":-0.72,"a":7.1857,"b":7.1862,"c":7.1922,"e":7.1946},{"x":-0.64,"a":7.1813,"b":7.1846,"c":7.1912,"e":7.1945},{"x":-0.56,"a":7.1735,"b":7.1826,"c":7.1895,"e":7.1944},{"x":-0.48,"a":7.1584,"b":7.1798,"c":7.1867,"e":7.1943},{"x":-0.4,"a":7.1315,"b":7.1759,"c":7.1814,"e":7.1941},{"x":-0.32,"a":7.1108,"b":7.1703,"c":7.1713,"e":7.1939},{"x":-0.24,"a":7.1315,"b":7.1617,"c":7.157,"e":7.1935},{"x":-0.2,"a":7.1464,"b":7.1556,"c":7.1539,"e":7.1932},{"x":-0.16,"a":7.1584,"b":7.1476,"c":7.157,"e":7.1928},{"x":-0.08,"a":7.1734,"b":7.1227,"c":7.1712,"e":7.1917},{"x":0,"a":7.1813,"b":7.0757,"c":7.1814,"e":7.1897},{"x":0.08,"a":7.1856,"b":6.9927,"c":7.1867,"e":7.1857},{"x":0.16,"a":7.1881,"b":6.9265,"c":7.1895,"e":7.1801},{"x":0.2,"a":7.189,"b":6.9419,"c":7.1904,"e":7.1789},{"x":0.24,"a":7.1898,"b":6.9801,"c":7.1911,"e":7.1801},{"x":0.32,"a":7.1909,"b":7.047,"c":7.1921,"e":7.1857},{"x":0.4,"a":7.1916,"b":7.0686,"c":7.1927,"e":7.1896},{"x":0.48,"a":7.1921,"b":7.047,"c":7.1931,"e":7.1917},{"x":0.56,"a":7.1925,"b":6.9801,"c":7.1934,"e":7.1928},{"x":0.64,"a":7.1928,"b":6.9265,"c":7.1937,"e":7.1934},{"x":0.72,"a":7.193,"b":6.9927,"c":7.1938,"e":7.1937},{"x":0.8,"a":7.1932,"b":7.0757,"c":7.1939,"e":7.194},{"x":0.88,"a":7.1933,"b":7.1227,"c":7.194,"e":7.1941},{"x":0.96,"a":7.1934,"b":7.1476,"c":7.1941,"e":7.1942},{"x":1.08,"a":7.1934,"b":7.1665,"c":7.1941,"e":7.1943},{"x":1.2,"a":7.1934,"b":7.1759,"c":7.194,"e":7.1943},{"x":1.36,"a":7.1933,"b":7.1826,"c":7.1939,"e":7.1941},{"x":1.52,"a":7.193,"b":7.1862,"c":7.1937,"e":7.1937},{"x":1.68,"a":7.1925,"b":7.1885,"c":7.1933,"e":7.1928},{"x":1.76,"a":7.1921,"b":7.1893,"c":7.1929,"e":7.1917},{"x":1.84,"a":7.1916,"b":7.1899,"c":7.1924,"e":7.1896},{"x":1.92,"a":7.1908,"b":7.1905,"c":7.1916,"e":7.1857},{"x":1.96,"a":7.1903,"b":7.1907,"c":7.1911,"e":7.1828},{"x":2,"a":7.1898,"b":7.1909,"c":7.1904,"e":7.1801},{"x":2.04,"a":7.189,"b":7.1912,"c":7.1895,"e":7.1789},{"x":2.08,"a":7.1881,"b":7.1913,"c":7.1883,"e":7.1801},{"x":2.16,"a":7.1856,"b":7.1917,"c":7.1844,"e":7.1857},{"x":2.24,"a":7.1812,"b":7.192,"c":7.1771,"e":7.1897},{"x":2.32,"a":7.1734,"b":7.1922,"c":7.164,"e":7.1917},{"x":2.4,"a":7.1584,"b":7.1925,"c":7.1539,"e":7.1928},{"x":2.44,"a":7.1464,"b":7.1926,"c":7.157,"e":7.1932},{"x":2.48,"a":7.1315,"b":7.1927,"c":7.164,"e":7.1935},{"x":2.56,"a":7.1108,"b":7.1928,"c":7.1771,"e":7.1939},{"x":2.64,"a":7.1315,"b":7.193,"c":7.1845,"e":7.1941},{"x":2.72,"a":7.1584,"b":7.1931,"c":7.1883,"e":7.1943},{"x":2.8,"a":7.1735,"b":7.1933,"c":7.1904,"e":7.1944},{"x":2.88,"a":7.1813,"b":7.1934,"c":7.1917,"e":7.1945},{"x":2.96,"a":7.1857,"b":7.1935,"c":7.1925,"e":7.1946},{"x":3.08,"a":7.1892,"b":7.1936,"c":7.1933,"e":7.1947},{"x":3.2,"a":7.191,"b":7.1937,"c":7.1937,"e":7.1947},{"x":3.4,"a":7.1926,"b":7.1939,"c":7.1942,"e":7.1948},{"x":3.6,"a":7.1934,"b":7.194,"c":7.1944,"e":7.1948},{"x":3.8,"a":7.1938,"b":7.1941,"c":7.1945,"e":7.1949},{"x":4,"a":7.1941,"b":7.1942,"c":7.1946,"e":7.1949}]
},
"spacing":32,
"vconcat":[
{"spacing":19,"vconcat":[
{"width":350,"height":271,"resolve":{"axis":{"x":"independent","y":"independent"}},"layer":[
{"data":{"name":"c1"},"transform":[{"fold":["a","b","c","e"],"as":["s","v"]}],"mark":{"type":"line","interpolate":"monotone","stroke":"#1a1a1a","strokeWidth":0.9},
"encoding":{"x":{"field":"x","type":"quantitative","scale":{"domain":[-2,4],"nice":false,"zero":false},"axis":{"orient":"bottom","values":[-1.5,-0.5,0.5,1.5,2.5,3.5],"labels":false,"domain":false,"title":null,"tickSize":-3}},
"y":{"field":"v","type":"quantitative","scale":{"domain":[5.49,5.70],"nice":false,"zero":false},"axis":{"orient":"left","values":[5.50,5.51,5.53,5.54,5.56,5.57,5.59,5.60,5.62,5.63,5.65,5.66,5.68,5.69],"labels":false,"domain":false,"title":null,"tickSize":-3}},"detail":{"field":"s"}}},
{"data":{"name":"p1"},"mark":{"type":"line","stroke":"#111","strokeWidth":1.1},
"encoding":{"x":{"field":"x","type":"quantitative","scale":{"domain":[-2,4],"nice":false,"zero":false},"axis":{"orient":"bottom","values":[-2,-1,0,1,2,3,4],"labelExpr":"'' + datum.value","labelFlush":false,"title":"Doppler Velocity (mm/s)","tickSize":-5,"labelPadding":8,"titlePadding":0}},
"y":{"field":"f","type":"quantitative","scale":{"domain":[5.49,5.70],"nice":false,"zero":false},"axis":{"orient":"left","values":[5.49,5.52,5.55,5.58,5.61,5.64,5.67,5.70],"labelExpr":"format(datum.value,'.2f')+'·10⁶'","title":"Counts (a.u.)","tickSize":-5,"labelPadding":12,"titlePadding":4}}}},
{"data":{"name":"p1"},"mark":{"type":"point","shape":"cross","filled":true,"size":14,"color":"#000","opacity":1},
"encoding":{"x":{"field":"x","type":"quantitative","scale":{"domain":[-2,4],"nice":false,"zero":false},"axis":null},"y":{"field":"d","type":"quantitative","scale":{"domain":[5.49,5.70],"nice":false,"zero":false},"axis":null}}},
{"data":{"values":[{"t":"#375"}]},"mark":{"type":"text","align":"right","baseline":"alphabetic","fontSize":17.5,"font":"DejaVu Sans","color":"#222"},
"encoding":{"x":{"datum":3.95,"type":"quantitative","scale":{"domain":[-2,4],"nice":false,"zero":false},"axis":null},"y":{"datum":5.502,"type":"quantitative","scale":{"domain":[5.49,5.70],"nice":false,"zero":false},"axis":null},"text":{"field":"t"}}}
]},
{"width":350,"height":271,"resolve":{"axis":{"x":"independent","y":"independent"}},"layer":[
{"data":{"name":"c2"},"transform":[{"fold":["a","b","c","e"],"as":["s","v"]}],"mark":{"type":"line","interpolate":"monotone","stroke":"#1a1a1a","strokeWidth":0.9},
"encoding":{"x":{"field":"x","type":"quantitative","scale":{"domain":[-2,4],"nice":false,"zero":false},"axis":{"orient":"bottom","values":[-1.5,-0.5,0.5,1.5,2.5,3.5],"labels":false,"domain":false,"title":null,"tickSize":-3}},
"y":{"field":"v","type":"quantitative","scale":{"domain":[4.47,4.65],"nice":false,"zero":false},"axis":{"orient":"left","values":[4.48,4.49,4.51,4.52,4.54,4.55,4.57,4.58,4.60,4.61,4.63,4.64],"labels":false,"domain":false,"title":null,"tickSize":-3}},"detail":{"field":"s"}}},
{"data":{"name":"p2"},"mark":{"type":"line","stroke":"#111","strokeWidth":1.1},
"encoding":{"x":{"field":"x","type":"quantitative","scale":{"domain":[-2,4],"nice":false,"zero":false},"axis":{"orient":"bottom","values":[-2,-1,0,1,2,3,4],"labelExpr":"'' + datum.value","labelFlush":false,"title":"Doppler Velocity (mm/s)","tickSize":-5,"labelPadding":8,"titlePadding":0}},
"y":{"field":"f","type":"quantitative","scale":{"domain":[4.47,4.65],"nice":false,"zero":false},"axis":{"orient":"left","values":[4.47,4.50,4.53,4.56,4.59,4.62,4.65],"labelExpr":"format(datum.value,'.2f')+'·10⁶'","title":"Counts (a.u.)","tickSize":-5,"labelPadding":12,"titlePadding":4}}}},
{"data":{"name":"p2"},"mark":{"type":"point","shape":"cross","filled":true,"size":14,"color":"#000","opacity":1},
"encoding":{"x":{"field":"x","type":"quantitative","scale":{"domain":[-2,4],"nice":false,"zero":false},"axis":null},"y":{"field":"d","type":"quantitative","scale":{"domain":[4.47,4.65],"nice":false,"zero":false},"axis":null}}},
{"data":{"values":[{"t":"#401"}]},"mark":{"type":"text","align":"right","baseline":"alphabetic","fontSize":17.5,"font":"DejaVu Sans","color":"#222"},
"encoding":{"x":{"datum":3.95,"type":"quantitative","scale":{"domain":[-2,4],"nice":false,"zero":false},"axis":null},"y":{"datum":4.4804,"type":"quantitative","scale":{"domain":[4.47,4.65],"nice":false,"zero":false},"axis":null},"text":{"field":"t"}}}
]},
{"width":350,"height":271,"resolve":{"axis":{"x":"independent","y":"independent"}},"layer":[
{"data":{"name":"c3"},"transform":[{"fold":["a","b","c","e"],"as":["s","v"]}],"mark":{"type":"line","interpolate":"monotone","stroke":"#1a1a1a","strokeWidth":0.9},
"encoding":{"x":{"field":"x","type":"quantitative","scale":{"domain":[-2,4],"nice":false,"zero":false},"axis":{"orient":"bottom","values":[-1.5,-0.5,0.5,1.5,2.5,3.5],"labels":false,"domain":false,"title":null,"tickSize":-3}},
"y":{"field":"v","type":"quantitative","scale":{"domain":[3.50,3.64],"nice":false,"zero":false},"axis":{"orient":"left","values":[3.51,3.53,3.55,3.57,3.59,3.61,3.63],"labels":false,"domain":false,"title":null,"tickSize":-3}},"detail":{"field":"s"}}},
{"data":{"name":"p3"},"mark":{"type":"line","stroke":"#111","strokeWidth":1.1},
"encoding":{"x":{"field":"x","type":"quantitative","scale":{"domain":[-2,4],"nice":false,"zero":false},"axis":{"orient":"bottom","values":[-2,-1,0,1,2,3,4],"labelExpr":"'' + datum.value","labelFlush":false,"title":"Doppler Velocity (mm/s)","tickSize":-5,"labelPadding":8,"titlePadding":0}},
"y":{"field":"f","type":"quantitative","scale":{"domain":[3.50,3.64],"nice":false,"zero":false},"axis":{"orient":"left","values":[3.50,3.52,3.54,3.56,3.58,3.60,3.62,3.64],"labelExpr":"format(datum.value,'.2f')+'·10⁶'","title":"Counts (a.u.)","tickSize":-5,"labelPadding":12,"titlePadding":4}}}},
{"data":{"name":"p3"},"mark":{"type":"point","shape":"cross","filled":true,"size":14,"color":"#000","opacity":1},
"encoding":{"x":{"field":"x","type":"quantitative","scale":{"domain":[-2,4],"nice":false,"zero":false},"axis":null},"y":{"field":"d","type":"quantitative","scale":{"domain":[3.50,3.64],"nice":false,"zero":false},"axis":null}}},
{"data":{"values":[{"t":"#212"}]},"mark":{"type":"text","align":"right","baseline":"alphabetic","fontSize":17.5,"font":"DejaVu Sans","color":"#222"},
"encoding":{"x":{"datum":3.95,"type":"quantitative","scale":{"domain":[-2,4],"nice":false,"zero":false},"axis":null},"y":{"datum":3.5081,"type":"quantitative","scale":{"domain":[3.50,3.64],"nice":false,"zero":false},"axis":null},"text":{"field":"t"}}}
]}
]},
{"width":350,"height":271,"resolve":{"axis":{"x":"independent","y":"independent"}},"layer":[
{"data":{"name":"c4"},"transform":[{"fold":["a","b","c","e"],"as":["s","v"]}],"mark":{"type":"line","interpolate":"monotone","stroke":"#1a1a1a","strokeWidth":0.9},
"encoding":{"x":{"field":"x","type":"quantitative","scale":{"domain":[-2,4],"nice":false,"zero":false},"axis":{"orient":"bottom","values":[-1.5,-0.5,0.5,1.5,2.5,3.5],"labels":false,"domain":false,"title":null,"tickSize":-3}},
"y":{"field":"v","type":"quantitative","scale":{"domain":[6.90,7.20],"nice":false,"zero":false},"axis":{"orient":"left","values":[6.91,6.92,6.93,6.94,6.95,6.97,6.98,6.99,7.00,7.01,7.03,7.04,7.05,7.06,7.07,7.09,7.10,7.11,7.12,7.13,7.15,7.16,7.17,7.18,7.19],"labels":false,"domain":false,"title":null,"tickSize":-3}},"detail":{"field":"s"}}},
{"data":{"name":"p4"},"mark":{"type":"line","stroke":"#111","strokeWidth":1.1},
"encoding":{"x":{"field":"x","type":"quantitative","scale":{"domain":[-2,4],"nice":false,"zero":false},"axis":{"orient":"bottom","values":[-2,-1,0,1,2,3,4],"labelExpr":"'' + datum.value","labelFlush":false,"title":"Doppler Velocity (mm/s)","tickSize":-5,"labelPadding":8,"titlePadding":0}},
"y":{"field":"f","type":"quantitative","scale":{"domain":[6.90,7.20],"nice":false,"zero":false},"axis":{"orient":"left","values":[6.90,6.96,7.02,7.08,7.14,7.20],"labelExpr":"format(datum.value,'.2f')+'·10⁶'","title":"Counts (a.u.)","tickSize":-5,"labelPadding":12,"titlePadding":4}}}},
{"data":{"name":"p4"},"mark":{"type":"point","shape":"cross","filled":true,"size":14,"color":"#000","opacity":1},
"encoding":{"x":{"field":"x","type":"quantitative","scale":{"domain":[-2,4],"nice":false,"zero":false},"axis":null},"y":{"field":"d","type":"quantitative","scale":{"domain":[6.90,7.20],"nice":false,"zero":false},"axis":null}}},
{"data":{"values":[{"t":"#313"}]},"mark":{"type":"text","align":"right","baseline":"alphabetic","fontSize":17.5,"font":"DejaVu Sans","color":"#222"},
"encoding":{"x":{"datum":3.95,"type":"quantitative","scale":{"domain":[-2,4],"nice":false,"zero":false},"axis":null},"y":{"datum":6.9166,"type":"quantitative","scale":{"domain":[6.90,7.20],"nice":false,"zero":false},"axis":null},"text":{"field":"t"}}}
]}
]
}
